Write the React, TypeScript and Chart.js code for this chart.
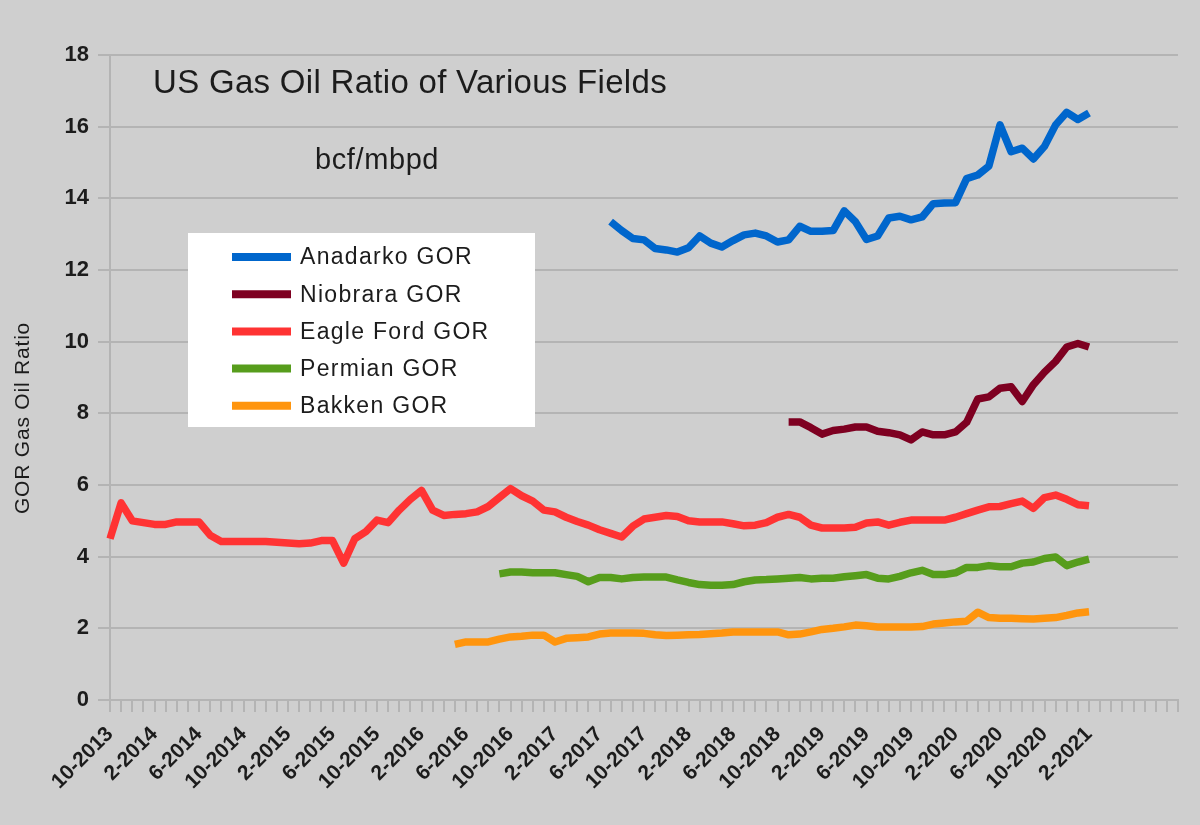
import { useEffect, useRef } from "react";
import { Chart, registerables } from "chart.js";

Chart.register(...registerables);

// Monthly categories (the date column of the sheet)
const months = [
  "10-2013", "11-2013", "12-2013",
  "1-2014", "2-2014", "3-2014", "4-2014", "5-2014", "6-2014", "7-2014", "8-2014", "9-2014", "10-2014", "11-2014", "12-2014",
  "1-2015", "2-2015", "3-2015", "4-2015", "5-2015", "6-2015", "7-2015", "8-2015", "9-2015", "10-2015", "11-2015", "12-2015",
  "1-2016", "2-2016", "3-2016", "4-2016", "5-2016", "6-2016", "7-2016", "8-2016", "9-2016", "10-2016", "11-2016", "12-2016",
  "1-2017", "2-2017", "3-2017", "4-2017", "5-2017", "6-2017", "7-2017", "8-2017", "9-2017", "10-2017", "11-2017", "12-2017",
  "1-2018", "2-2018", "3-2018", "4-2018", "5-2018", "6-2018", "7-2018", "8-2018", "9-2018", "10-2018", "11-2018", "12-2018",
  "1-2019", "2-2019", "3-2019", "4-2019", "5-2019", "6-2019", "7-2019", "8-2019", "9-2019", "10-2019", "11-2019", "12-2019",
  "1-2020", "2-2020", "3-2020", "4-2020", "5-2020", "6-2020", "7-2020", "8-2020", "9-2020", "10-2020", "11-2020", "12-2020",
  "1-2021", "2-2021",
];
// Empty rows below the last date still occupy category slots on the axis
const blankRows = ["", "", "", "", "", "", "", ""];
const labelEvery = 4;

// GOR series, bcf/mbpd; each starts at the given month index
const anadarkoStart = 45;
const anadarkoGor = [
  13.35, 13.1, 12.88, 12.84, 12.6, 12.56, 12.5, 12.62, 12.95, 12.75, 12.64, 12.82, 12.98, 13.03, 12.95, 12.78,
  12.84, 13.22, 13.08, 13.08, 13.1, 13.65, 13.35, 12.85, 12.95, 13.45, 13.5, 13.4, 13.48, 13.85, 13.87, 13.88,
  14.55, 14.65, 14.9, 16.05, 15.3, 15.4, 15.1, 15.45, 16.05, 16.4, 16.2, 16.38,
];

const niobraraStart = 61;
const niobraraGor = [
  7.76, 7.76, 7.6, 7.42, 7.52, 7.56, 7.62, 7.62, 7.5, 7.46, 7.4, 7.26, 7.48, 7.4, 7.4, 7.48,
  7.75, 8.4, 8.46, 8.7, 8.74, 8.33, 8.8, 9.15, 9.45, 9.85, 9.95, 9.85,
];

const eagleFordStart = 0;
const eagleFordGor = [
  4.5, 5.5, 5.0, 4.95, 4.9, 4.9, 4.97, 4.97, 4.97, 4.6, 4.42, 4.42, 4.42, 4.42, 4.42, 4.4,
  4.38, 4.36, 4.38, 4.45, 4.45, 3.82, 4.5, 4.7, 5.02, 4.95, 5.3, 5.6, 5.85, 5.3, 5.15, 5.18,
  5.2, 5.25, 5.4, 5.65, 5.9, 5.7, 5.55, 5.3, 5.25, 5.1, 4.98, 4.88, 4.75, 4.65, 4.55, 4.85,
  5.05, 5.1, 5.15, 5.12, 5.0, 4.97, 4.97, 4.97, 4.92, 4.86, 4.88, 4.95, 5.1, 5.18, 5.1, 4.88,
  4.8, 4.8, 4.8, 4.82, 4.94, 4.97, 4.88, 4.96, 5.02, 5.02, 5.02, 5.02, 5.1, 5.2, 5.3, 5.39,
  5.4, 5.48, 5.55, 5.35, 5.65, 5.72, 5.6, 5.45, 5.42,
];

const permianStart = 35;
const permianGor = [
  3.52, 3.57, 3.57, 3.55, 3.55, 3.55, 3.5, 3.45, 3.3, 3.42, 3.42, 3.38, 3.42, 3.43, 3.43, 3.43,
  3.35, 3.28, 3.22, 3.2, 3.2, 3.22, 3.3, 3.35, 3.36, 3.38, 3.4, 3.42, 3.38, 3.4, 3.4, 3.44,
  3.47, 3.5, 3.4, 3.38, 3.45, 3.55, 3.62, 3.5, 3.5, 3.55, 3.7, 3.7, 3.75, 3.72, 3.72, 3.82,
  3.85, 3.95, 3.99, 3.75, 3.85, 3.93,
];

const bakkenStart = 31;
const bakkenGor = [
  1.55, 1.62, 1.62, 1.62, 1.7, 1.76, 1.78, 1.81, 1.81, 1.62, 1.72, 1.74, 1.76, 1.84, 1.87, 1.87,
  1.87, 1.86, 1.82, 1.8, 1.81, 1.82, 1.83, 1.85, 1.87, 1.9, 1.9, 1.9, 1.9, 1.9, 1.82, 1.84,
  1.9, 1.97, 2.0, 2.04, 2.09, 2.07, 2.04, 2.04, 2.04, 2.04, 2.05, 2.12, 2.15, 2.18, 2.2, 2.45,
  2.3, 2.28, 2.28, 2.27, 2.26, 2.28, 2.3, 2.36, 2.43, 2.46,
];

const yMin = 0;
const yMax = 18;
const yStep = 2;

const chartTitle = "US Gas Oil Ratio of Various Fields";
const chartSubtitle = "bcf/mbpd";
const yAxisTitle = "GOR Gas Oil Ratio";

const FONT = "'Liberation Sans', Arial, Helvetica, sans-serif";
const TEXT = "#1c1c1c";
const BACKGROUND = "#cfcfcf";
const GRID = "#b4b4b4";

const padFrom = (start: number, values: number[]) =>
  [...new Array(start).fill(null), ...values] as (number | null)[];

// Title, subtitle, axis title and the boxed legend drawn over the plot
const overlayPlugin = {
  id: "gorOverlay",
  afterDraw(chart: any) {
    const ctx = chart.ctx as any;
    ctx.save();
    ctx.fillStyle = TEXT;
    ctx.textBaseline = "middle";
    ctx.textAlign = "left";

    ctx.font = `33px ${FONT}`;
    ctx.letterSpacing = "0.3px";
    ctx.fillText(chartTitle, 153, 84);

    ctx.font = `29px ${FONT}`;
    ctx.letterSpacing = "0.6px";
    ctx.fillText(chartSubtitle, 315, 161);

    ctx.save();
    ctx.translate(23, 418);
    ctx.rotate(-Math.PI / 2);
    ctx.textAlign = "center";
    ctx.font = `21px ${FONT}`;
    ctx.letterSpacing = "0.8px";
    ctx.fillText(yAxisTitle, 0, 0);
    ctx.restore();

    // legend box
    const boxX = 188, boxY = 233, boxW = 347, boxH = 194;
    ctx.fillStyle = "#ffffff";
    ctx.fillRect(boxX, boxY, boxW, boxH);
    ctx.font = `23px ${FONT}`;
    ctx.letterSpacing = "1.3px";
    chart.data.datasets.forEach((ds: any, i: number) => {
      const rowY = 257 + i * 37.2;
      ctx.strokeStyle = ds.borderColor;
      ctx.lineWidth = 8;
      ctx.lineCap = "butt";
      ctx.beginPath();
      ctx.moveTo(232, rowY);
      ctx.lineTo(291, rowY);
      ctx.stroke();
      ctx.fillStyle = TEXT;
      ctx.fillText(ds.label, 300, rowY + 1);
    });
    ctx.letterSpacing = "0px";
    ctx.restore();
  },
};

export default function App() {
  const canvasRef = useRef<HTMLCanvasElement | null>(null);

  useEffect(() => {
    if (!canvasRef.current) return;
    const categories = [...months, ...blankRows];

    const line = (label: string, color: string, start: number, values: number[]) => ({
      label,
      data: padFrom(start, values),
      borderColor: color,
      backgroundColor: color,
      borderWidth: 7.5,
      pointRadius: 0,
      pointHoverRadius: 0,
      tension: 0,
      fill: false,
      spanGaps: false,
      borderJoinStyle: "round" as const,
    });

    const chart = new Chart(canvasRef.current, {
      type: "line",
      data: {
        labels: categories,
        datasets: [
          line("Anadarko GOR", "#0066cc", anadarkoStart, anadarkoGor),
          line("Niobrara GOR", "#7e0021", niobraraStart, niobraraGor),
          line("Eagle Ford GOR", "#ff3333", eagleFordStart, eagleFordGor),
          line("Permian GOR", "#579d1c", permianStart, permianGor),
          line("Bakken GOR", "#ff950e", bakkenStart, bakkenGor),
        ],
      },
      options: {
        animation: false,
        responsive: true,
        maintainAspectRatio: false,
        layout: { padding: { top: 55, right: 22, bottom: 0, left: 0 } },
        plugins: {
          legend: { display: false },
          tooltip: { enabled: false },
          title: { display: false },
        },
        scales: {
          x: {
            type: "category",
            offset: false,
            ticks: {
              autoSkip: false,
              minRotation: 45,
              maxRotation: 45,
              padding: 10,
              color: TEXT,
              font: { family: FONT, size: 21, weight: "bold" },
              callback: function (this: any, value: any, index: number) {
                return index % labelEvery === 0 ? this.getLabelForValue(value) : "";
              },
            },
            grid: {
              drawOnChartArea: false,
              drawTicks: true,
              tickLength: 12,
              color: GRID,
              lineWidth: 2,
            },
            border: { display: true, color: GRID, width: 2 },
            afterFit: (scale: any) => {
              scale.height = 125;
              scale.paddingLeft = 0;
              scale.paddingRight = 0;
            },
          },
          y: {
            min: yMin,
            max: yMax,
            ticks: {
              stepSize: yStep,
              padding: 9,
              color: TEXT,
              font: { family: FONT, size: 22, weight: "bold" },
            },
            grid: {
              color: GRID,
              lineWidth: 2,
              drawTicks: true,
              tickLength: 12,
            },
            border: { display: true, color: GRID, width: 2 },
            afterFit: (scale: any) => {
              scale.width = 110;
            },
          },
        },
      },
      plugins: [overlayPlugin],
    });

    return () => chart.destroy();
  }, []);

  return (
    <div
      style={{
        position: "fixed",
        left: 0,
        top: 0,
        width: 1200,
        height: 825,
        background: BACKGROUND,
      }}
    >
      <canvas ref={canvasRef} />
    </div>
  );
}
